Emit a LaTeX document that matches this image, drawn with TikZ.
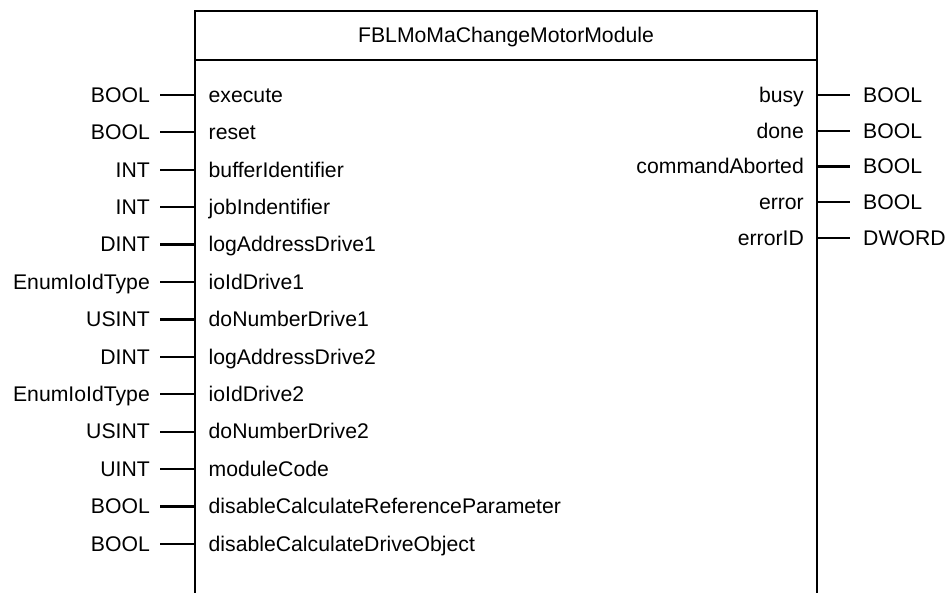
\documentclass[tikz,border=0pt]{standalone}
\usepackage{fontspec}
\setmainfont{Liberation Sans}
\usepackage{tikz}
\usetikzlibrary{positioning, calc}
\definecolor{fbBlack}{RGB}{0, 0, 0}

\begin{document}
\begin{tikzpicture}[x=1pt, y=-1pt,
    pinname/.style={inner ysep=0pt, text height=16.5pt, text depth=2pt, font=\fontsize{21.2}{25}\selectfont},
    pintype/.style={inner ysep=0pt, text height=16.5pt, text depth=2pt, font=\fontsize{21.2}{25}\selectfont},
    wire/.style={line width=2.2pt, fbBlack}]
  \useasboundingbox (0,0) rectangle (949,593);

  % Block frame (open at the bottom)
  \draw[line width=2.2pt, fbBlack] (195,593) -- (195,11) -- (817,11) -- (817,593);
  \draw[line width=1.5pt, fbBlack] (195,60) -- (817,60);
  \node[pinname] (title) at (506,35) {FBLMoMaChangeMotorModule};

  % Inputs
  \foreach \typ/\nam [count=\i from 0] in {BOOL/execute, BOOL/reset, INT/bufferIdentifier,
      INT/jobIndentifier, DINT/logAddressDrive1, EnumIoIdType/ioIdDrive1, USINT/doNumberDrive1,
      DINT/logAddressDrive2, EnumIoIdType/ioIdDrive2, USINT/doNumberDrive2, UINT/moduleCode,
      BOOL/disableCalculateReferenceParameter, BOOL/disableCalculateDriveObject} {
      \node[pintype, anchor=east, inner xsep=10pt] (ti\i) at (160, 95+37.4*\i) {\typ};
      \node[pinname, anchor=west, inner xsep=13.5pt] (pi\i) at (195, 95+37.4*\i) {\nam};
      \draw[wire] (ti\i.east) -- (pi\i.west);
  }

  % Outputs
  \foreach \nam/\typ [count=\i from 0] in {busy/BOOL, done/BOOL, commandAborted/BOOL,
      error/BOOL, errorID/DWORD} {
      \node[pinname, anchor=east, inner xsep=13pt] (po\i) at (817, 95+35.8*\i) {\nam};
      \node[pintype, anchor=west, inner xsep=13pt] (to\i) at (850, 95+35.8*\i) {\typ};
      \draw[wire] (po\i.east) -- (to\i.west);
  }
\end{tikzpicture}
\end{document}
